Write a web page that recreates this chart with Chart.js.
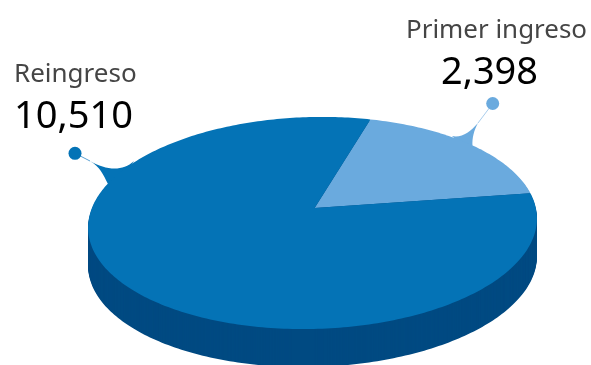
<!DOCTYPE html>
<html>
<head>
<meta charset="utf-8">
<script src="https://cdn.jsdelivr.net/npm/chart.js@4"></script>
<style>
  html, body { margin: 0; background: #fff; }
  canvas { display: block; }
</style>
</head>
<body>
<canvas id="ingresoChart" width="591" height="365"></canvas>
<script>
const categories = ['Primer ingreso', 'Reingreso'];
const alumnos = [2398, 10510];
const colores = ['#6aaade', '#0473b6'];

const SQUASH = 0.472;      // alto/ancho de la elipse
const PERSPECTIVE = 0.1415; // cuanto sube el centro del pie
const TILT = -1.5 * Math.PI / 180;
const DEPTH = 38;
const APEX_SHIFT = 2.5;
const SIDE_COLOR = '#004a82';

// punto del borde del disco en perspectiva (r = 0 centro, r = 1 borde)
function project(arc, angle, r) {
    const a = PERSPECTIVE;
    const u = r * Math.cos(angle), v = r * Math.sin(angle);
    const d = 1 - a * v;
    const X = u * Math.sqrt(1 - a * a) / d;
    const Y = (v - a) / d;
    const px = arc.outerRadius * X, py = arc.outerRadius * SQUASH * Y;
    return {
        x: arc.x + px * Math.cos(TILT) - py * Math.sin(TILT),
        y: arc.y + px * Math.sin(TILT) + py * Math.cos(TILT)
    };
}

function slicePath(ctx, arc, dy) {
    const c = project(arc, 0, 0);
    ctx.beginPath();
    ctx.moveTo(c.x + APEX_SHIFT, c.y + dy);
    const steps = Math.ceil((arc.endAngle - arc.startAngle) * 60);
    for (let i = 0; i <= steps; i++) {
        const p = project(arc, arc.startAngle + (arc.endAngle - arc.startAngle) * i / steps, 1);
        ctx.lineTo(p.x, p.y + dy);
    }
    ctx.closePath();
}

// globos que salen del borde hacia el punto de cada etiqueta
const callouts = [
    { index: 0, dot: [492.7, 103.5], tip: [478, 123],
      left: [[470, 132], [462, 138], [452, 136]],
      right: [[474, 130], [472, 138], [472.5, 146]], base: [462, 145] },
    { index: 1, dot: [75, 153.3], tip: [90, 161],
      left: [[100, 167], [103, 174], [108, 184]],
      right: [[106, 170], [122, 172], [134, 161]], base: [122, 178] }
];

const pie3d = {
    id: 'pie3d',
    beforeDatasetsDraw(chart) {
        const ctx = chart.ctx;
        const arcs = chart.getDatasetMeta(0).data;
        ctx.save();
        // canto inferior
        ctx.fillStyle = SIDE_COLOR;
        for (let dy = DEPTH; dy > 0; dy--) {
            arcs.forEach(arc => { slicePath(ctx, arc, dy); ctx.fill(); });
        }
        // globos
        callouts.forEach(c => {
            const color = colores[c.index];
            ctx.fillStyle = color;
            ctx.beginPath();
            ctx.moveTo(c.base[0], c.base[1]);
            ctx.lineTo(c.right[2][0], c.right[2][1]);
            ctx.bezierCurveTo(c.right[1][0], c.right[1][1], c.right[0][0], c.right[0][1], c.tip[0], c.tip[1]);
            ctx.lineTo(c.tip[0], c.tip[1]);
            ctx.bezierCurveTo(c.left[0][0], c.left[0][1], c.left[1][0], c.left[1][1], c.left[2][0], c.left[2][1]);
            ctx.closePath();
            ctx.fill();
            ctx.strokeStyle = c.index === 0 ? '#a9cdec' : '#5aa0d2';
            ctx.lineWidth = 1;
            ctx.beginPath();
            ctx.moveTo(c.dot[0], c.dot[1]);
            ctx.lineTo(c.tip[0], c.tip[1]);
            ctx.stroke();
            ctx.beginPath();
            ctx.arc(c.dot[0], c.dot[1], 6.5, 0, Math.PI * 2);
            ctx.fill();
        });
        // cara superior
        arcs.forEach((arc, i) => {
            ctx.fillStyle = colores[i];
            slicePath(ctx, arc, 0);
            ctx.fill();
        });
        ctx.restore();
        return false;
    },
    afterDraw(chart) {
        const ctx = chart.ctx;
        ctx.save();
        ctx.textBaseline = 'alphabetic';
        const drawLabel = (i, name, num) => {
            ctx.font = '26px "Noto Sans"';
            ctx.fillStyle = '#454545';
            ctx.fillText(categories[i], name[0], name[1], name[2]);
            ctx.font = '38.5px "Noto Sans"';
            ctx.fillStyle = '#000';
            ctx.fillText(alumnos[i].toLocaleString('en-US'), num[0], num[1], num[2]);
        };
        drawLabel(0, [406, 38, 181], [441, 83.5, 97]);
        drawLabel(1, [14, 82, 123], [14, 127.5, 119]);
        ctx.restore();
    }
};

new Chart(document.getElementById('ingresoChart'), {
    type: 'pie',
    data: {
        labels: categories,
        datasets: [{ data: alumnos, backgroundColor: colores, borderWidth: 0 }]
    },
    options: {
        responsive: false,
        animation: false,
        rotation: 18,
        radius: 224.5,
        layout: { padding: { left: 34, top: 81 } },
        plugins: { legend: { display: false }, tooltip: { enabled: false } }
    },
    plugins: [pie3d]
});
</script>
</body>
</html>
